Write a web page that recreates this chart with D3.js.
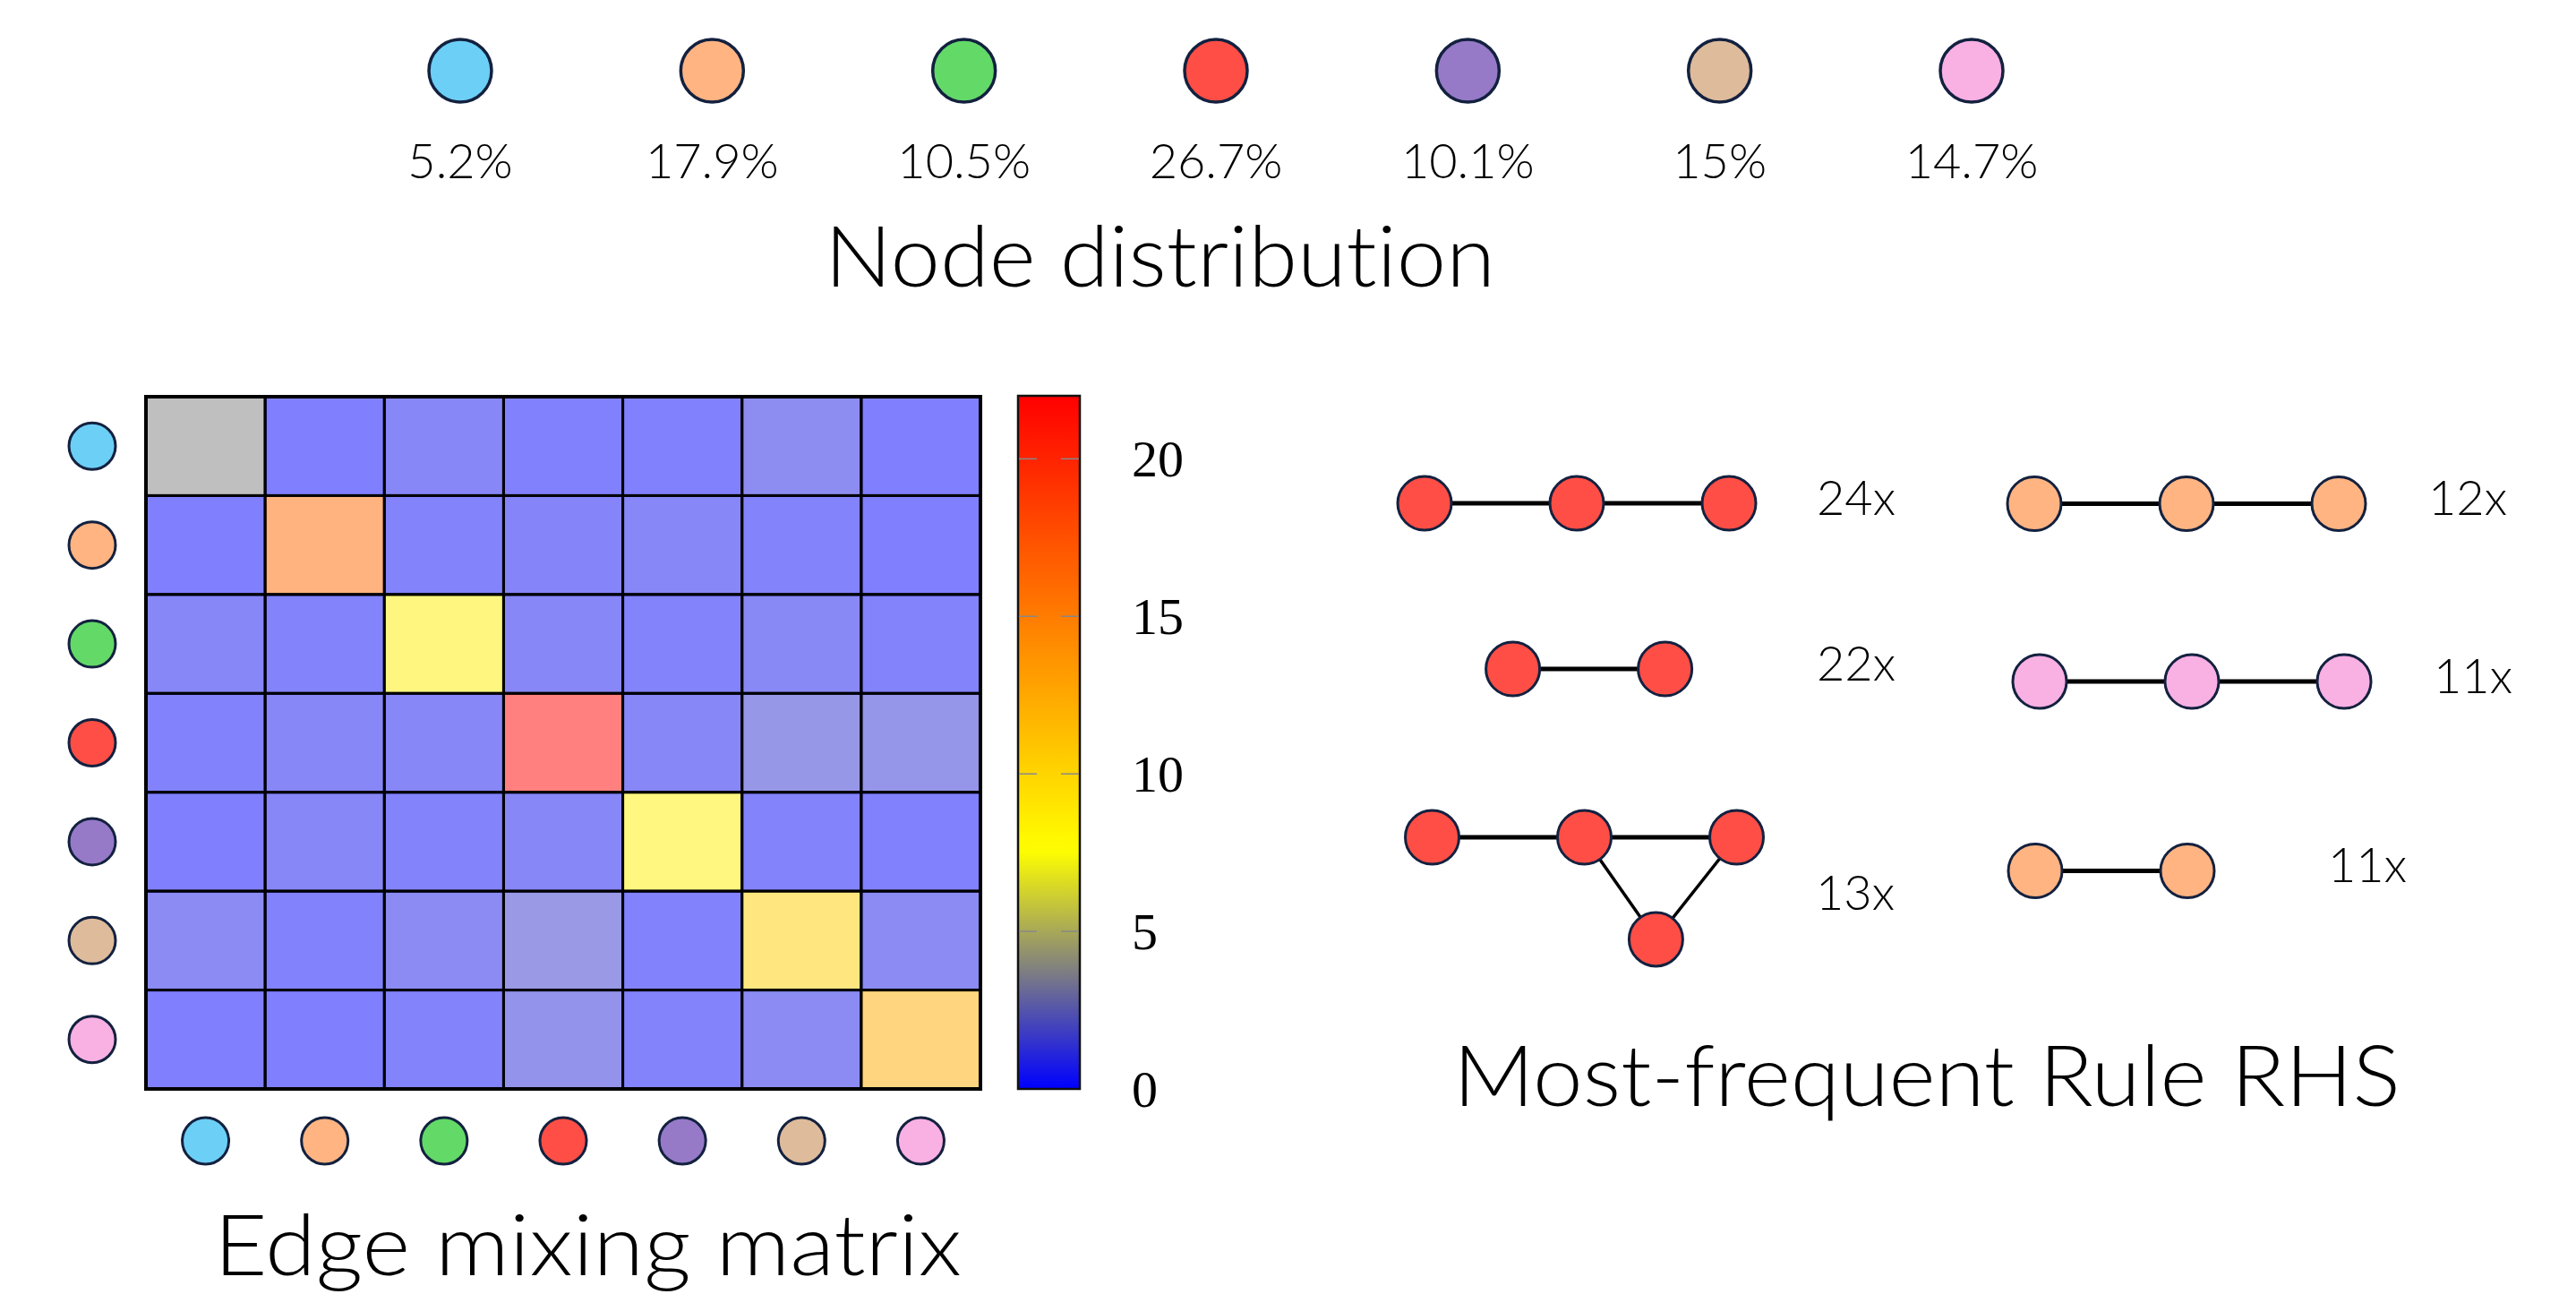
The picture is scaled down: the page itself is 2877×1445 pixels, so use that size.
<!DOCTYPE html>
<html><head><meta charset="utf-8">
<script src="https://cdn.jsdelivr.net/npm/d3@7"></script>
<style>html,body{margin:0;padding:0;background:#fff;} text{font-variant-ligatures:none;font-feature-settings:"liga" 0,"clig" 0;}</style>
</head><body>
<svg id="chart" width="2877" height="1445"></svg>
<script>
// ---------- data ----------
const nodeColors = ["#6ccff6", "#ffb482", "#63d968", "#ff4e46", "#967ac8", "#debb9b", "#f9b0e3"];
const nodeShares = [5.2, 17.9, 10.5, 26.7, 10.1, 15, 14.7];
const mixMatrix = [
  [3.8, 0.05, 0.45, 0.1, 0.1, 0.8, 0.05],
  [0.05, 16.2, 0.2, 0.35, 0.45, 0.2, 0.05],
  [0.45, 0.25, 8.6, 0.45, 0.25, 0.6, 0.2],
  [0.15, 0.45, 0.45, 21.9, 0.45, 1.4, 1.3],
  [0.05, 0.45, 0.25, 0.45, 8.5, 0.2, 0.1],
  [0.7, 0.15, 0.7, 1.55, 0.15, 10.4, 0.7],
  [0.05, 0.05, 0.25, 1.2, 0.25, 0.7, 12.2]
];
const colorTicks = [0, 5, 10, 15, 20];
const colorDomain = [0, 3.8, 7.6, 22];
const colorRange = ["#0000ff", "#808080", "#ffff00", "#ff0000"];
const ruleCounts = [24, 22, 13, 12, 11, 11];
const ruleNodeColors = [[3,3,3],[3,3],[3,3,3,3],[1,1,1],[6,6,6],[1,1]];
const ruleEdges = [[[0,1],[1,2]], [[0,1]], [[0,1],[1,2],[1,3],[2,3]], [[0,1],[1,2]], [[0,1],[1,2]], [[0,1]]];

// ---------- layout ----------
const svg = d3.select("#chart");
const FONT = "Lato, 'Open Sans', sans-serif";
const STROKE_NODE = "#13213f";

function title(x, y, len, txt) {
  svg.append("text").attr("x", x).attr("y", y)
    .attr("font-family", FONT).attr("font-weight", 300).attr("font-size", 95)
    .attr("textLength", len).attr("lengthAdjust", "spacingAndGlyphs").text(txt);
}

// Node distribution legend
const xLeg = d3.scalePoint().domain(d3.range(nodeColors.length)).range([514, 2202]);
const leg = svg.append("g");
leg.selectAll("circle").data(nodeColors).join("circle")
  .attr("cx", (d,i) => xLeg(i)).attr("cy", 79).attr("r", 35)
  .attr("fill", d => d).attr("stroke", STROKE_NODE).attr("stroke-width", 3.5);
leg.selectAll("text").data(nodeShares).join("text")
  .attr("x", (d,i) => xLeg(i)).attr("y", 199)
  .attr("text-anchor", "middle").attr("font-family", FONT).attr("font-weight", 300)
  .attr("font-size", 54).text(d => d + "%");
title(921, 320, 749, "Node distribution");

// Edge mixing matrix
const n = mixMatrix.length;
const xM = d3.scaleBand().domain(d3.range(n)).range([163, 1095]);
const yM = d3.scaleBand().domain(d3.range(n)).range([443, 1216]);
const cmap = d3.scaleLinear().domain(colorDomain).range(colorRange).clamp(true);
const cells = [];
mixMatrix.forEach((row, i) => row.forEach((v, j) => cells.push({i, j, v})));
const mg = svg.append("g");
mg.selectAll("rect.cell").data(cells).join("rect").attr("class","cell")
  .attr("x", d => xM(d.j)).attr("y", d => yM(d.i))
  .attr("width", xM.bandwidth()).attr("height", yM.bandwidth())
  .attr("fill", d => cmap(d.v)).attr("fill-opacity", 0.5)
  .attr("stroke", "#000").attr("stroke-width", 3);
mg.append("rect").attr("x", 163).attr("y", 443).attr("width", 1095-163).attr("height", 1216-443)
  .attr("fill", "none").attr("stroke", "#000").attr("stroke-width", 4);
mg.selectAll("circle.row").data(nodeColors).join("circle").attr("class","row")
  .attr("cx", 103).attr("cy", (d,i) => yM(i) + yM.bandwidth()/2).attr("r", 26)
  .attr("fill", d => d).attr("stroke", STROKE_NODE).attr("stroke-width", 3);
mg.selectAll("circle.col").data(nodeColors).join("circle").attr("class","col")
  .attr("cx", (d,i) => xM(i) + xM.bandwidth()/2).attr("cy", 1274).attr("r", 26)
  .attr("fill", d => d).attr("stroke", STROKE_NODE).attr("stroke-width", 3);
title(239, 1424, 835, "Edge mixing matrix");

// Colorbar
const yC = d3.scaleLinear().domain([0, 22]).range([1216, 442]);
const defs = svg.append("defs");
const grad = defs.append("linearGradient").attr("id", "cbar")
  .attr("x1", 0).attr("y1", 1).attr("x2", 0).attr("y2", 0);
d3.range(0, 22.01, 0.5).forEach(v => grad.append("stop").attr("offset", v/22).attr("stop-color", cmap(v)));
const cb = svg.append("g");
cb.append("rect").attr("x", 1137).attr("y", yC(22)).attr("width", 69).attr("height", yC(0)-yC(22))
  .attr("fill", "url(#cbar)").attr("stroke", "#111").attr("stroke-width", 2.5);
const tickG = cb.selectAll("g.tick").data(colorTicks).join("g").attr("class","tick");
tickG.filter(d => d > 0).append("line").attr("x1", 1138).attr("x2", 1158)
  .attr("y1", d => yC(d)).attr("y2", d => yC(d)).attr("stroke", "#888").attr("stroke-width", 1.5);
tickG.filter(d => d > 0).append("line").attr("x1", 1185).attr("x2", 1205)
  .attr("y1", d => yC(d)).attr("y2", d => yC(d)).attr("stroke", "#888").attr("stroke-width", 1.5);
tickG.append("text").attr("x", 1264).attr("y", d => yC(d)).attr("dy", "0.34em")
  .attr("font-family", "'Liberation Serif', 'DejaVu Serif', serif").attr("font-size", 58).text(d => d);

// Most-frequent rule RHS
const slot = d3.scaleLinear().domain([0, 1]).range([0, 170]);
const ruleNodePos = [
  [[0,0],[1,0],[2,0]],
  [[0.58,0],[1.58,0]],
  [[0.05,0],[1.05,0],[2.05,0],[1.52,0.67]],
  [[0,0],[1,0],[2,0]],
  [[0,0],[1,0],[2,0]],
  [[0,0],[1,0]]
];
const ruleOrigin = [[1591,562],[1591,747],[1591,935],[2272,562.5],[2278,761],[2273,972.5]];
const ruleLabelPos = [[2029,574.5],[2029,760],[2028,1016],[2712,575],[2718,773.5],[2600,985]];
const rg = svg.append("g");
ruleCounts.forEach((c, r) => {
  const g = rg.append("g").attr("transform", `translate(${ruleOrigin[r][0]},${ruleOrigin[r][1]})`);
  const pos = ruleNodePos[r];
  g.selectAll("line").data(ruleEdges[r]).join("line")
    .attr("x1", d => slot(pos[d[0]][0])).attr("y1", d => slot(pos[d[0]][1]))
    .attr("x2", d => slot(pos[d[1]][0])).attr("y2", d => slot(pos[d[1]][1]))
    .attr("stroke", "#000").attr("stroke-width", d => pos[d[0]][1] === pos[d[1]][1] ? 5 : 3.5);
  g.selectAll("circle").data(ruleNodeColors[r]).join("circle")
    .attr("cx", (d,i) => slot(pos[i][0])).attr("cy", (d,i) => slot(pos[i][1])).attr("r", 30)
    .attr("fill", d => nodeColors[d]).attr("stroke", STROKE_NODE).attr("stroke-width", 3);
  rg.append("text").attr("x", ruleLabelPos[r][0]).attr("y", ruleLabelPos[r][1])
    .attr("font-family", FONT).attr("font-weight", 300).attr("font-size", 54).text(c + "x");
});
title(1623, 1235, 1058, "Most-frequent Rule RHS");
</script>
</body></html>
